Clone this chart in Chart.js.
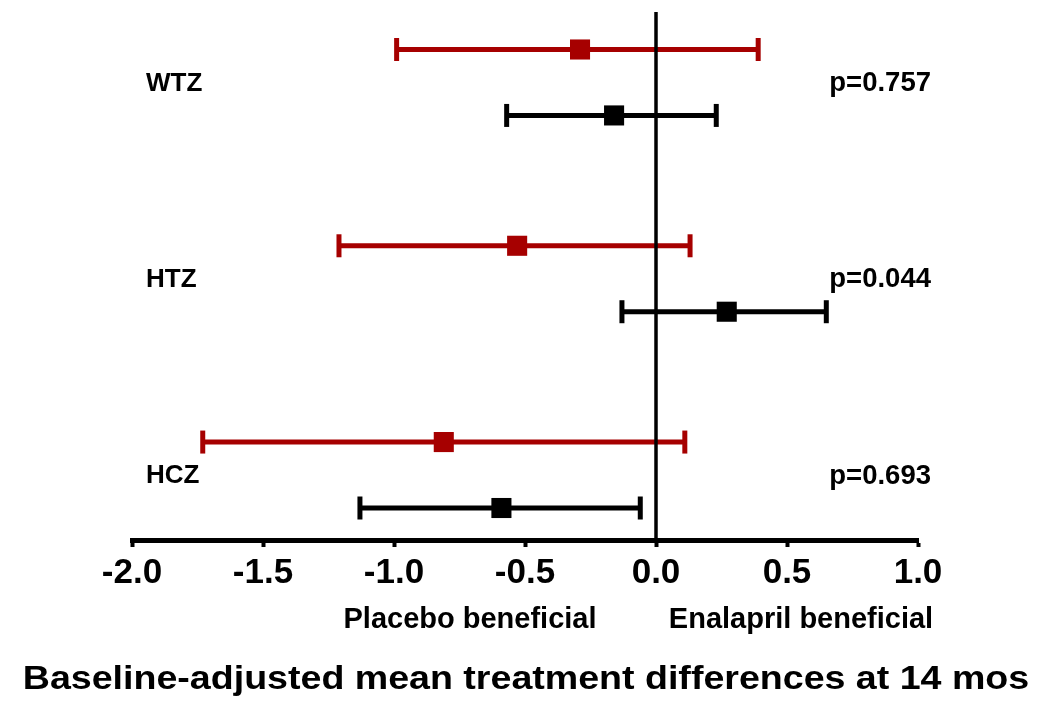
<!DOCTYPE html>
<html>
<head>
<meta charset="utf-8">
<script src="https://cdn.jsdelivr.net/npm/chart.js@4.4.1/dist/chart.umd.min.js"></script>
<style>
  html, body { margin: 0; padding: 0; background: #fff; }
  #chart { display: block; }
</style>
</head>
<body>
<canvas id="chart" width="1050" height="719"></canvas>
<script>
// genotype groups and p-values
const groups = ['WTZ', 'HTZ', 'HCZ'];
const pLabels = ['p=0.757', 'p=0.044', 'p=0.693'];

// red series (upper row in each group)
const redMean = [-0.29, -0.53, -0.81];
const redLow = [-0.99, -1.21, -1.73];
const redHigh = [0.39, 0.13, 0.11];

// black series (lower row in each group)
const blackMean = [-0.16, 0.27, -0.59];
const blackLow = [-0.57, -0.13, -1.13];
const blackHigh = [0.23, 0.65, -0.06];

// x axis ticks
const xTicks = [-2.0, -1.5, -1.0, -0.5, 0.0, 0.5, 1.0];

const RED = '#a60000';
const BLACK = '#000000';
const FONT = '"Liberation Sans", Arial, Helvetica, sans-serif';

// vertical row positions: groups at 3, 2, 1; red above, black below
const groupPos = [3, 2, 1];
const rowOffset = 0.168;
const yMin = 0.669, yMax = 3.359;

const datasets = [];

// zero reference line (drawn on top)
datasets.push({
    type: 'line',
    data: [{ x: 0, y: yMin }, { x: 0, y: yMax }],
    borderColor: BLACK,
    borderWidth: 3.5,
    pointRadius: 0,
    order: 0
});

function addSeries(mean, low, high, color, offset) {
    groups.forEach((g, i) => {
        const y = groupPos[i] + offset;
        // whisker with end caps
        datasets.push({
            type: 'line',
            data: [{ x: low[i], y: y }, { x: high[i], y: y }],
            borderColor: color,
            borderWidth: 5,
            pointStyle: 'line',
            rotation: 90,
            pointRadius: 11.5,
            pointBorderWidth: 5,
            pointBorderColor: color,
            order: 2
        });
        // mean marker
        datasets.push({
            type: 'scatter',
            data: [{ x: mean[i], y: y }],
            pointStyle: 'rect',
            pointRadius: 14.2,
            pointBackgroundColor: color,
            pointBorderWidth: 0,
            order: 1
        });
    });
}

addSeries(redMean, redLow, redHigh, RED, rowOffset);
addSeries(blackMean, blackLow, blackHigh, BLACK, -rowOffset);

// labels, p-values and bottom texts
const textPlugin = {
    id: 'texts',
    afterDraw(chart) {
        const ctx = chart.ctx;
        const yScale = chart.scales.y;
        const area = chart.chartArea;
        ctx.save();
        ctx.fillStyle = '#000';
        ctx.textBaseline = 'middle';
        groups.forEach((g, i) => {
            const y = yScale.getPixelForValue(groupPos[i]);
            ctx.font = 'bold 26px ' + FONT;
            ctx.textAlign = 'left';
            ctx.fillText(g, 146, y + 1);
            ctx.font = 'bold 27.5px ' + FONT;
            ctx.textAlign = 'right';
            ctx.fillText(pLabels[i], 931, y + 1);
        });

        ctx.textBaseline = 'alphabetic';
        ctx.font = 'bold 29px ' + FONT;
        ctx.textAlign = 'center';
        ctx.fillText('Placebo beneficial', 470, area.bottom + 88);
        ctx.fillText('Enalapril beneficial', 801, area.bottom + 88);

        // title is a little wider than plain bold Arial in the original
        ctx.font = 'bold 34px ' + FONT;
        ctx.translate(526, area.bottom + 149);
        ctx.scale(1.105, 1);
        ctx.fillText('Baseline-adjusted mean treatment differences at 14 mos', 0, 0);
        ctx.restore();
    }
};

new Chart(document.getElementById('chart'), {
    type: 'scatter',
    data: { datasets: datasets },
    options: {
        responsive: false,
        animation: false,
        layout: { autoPadding: false, padding: { left: 132, right: 132, top: 12, bottom: 0 } },
        plugins: {
            legend: { display: false },
            tooltip: { enabled: false }
        },
        scales: {
            x: {
                type: 'linear',
                position: 'bottom',
                min: xTicks[0],
                max: xTicks[xTicks.length - 1],
                afterBuildTicks: (scale) => {
                    scale.ticks = xTicks.map(v => ({ value: v }));
                },
                afterFit: (scale) => { scale.height = 179; },
                border: { display: true, color: BLACK, width: 5 },
                grid: {
                    drawOnChartArea: false,
                    drawTicks: true,
                    tickLength: 7,
                    tickWidth: 4,
                    tickColor: BLACK
                },
                ticks: {
                    color: BLACK,
                    padding: 5,
                    maxRotation: 0,
                    font: { family: FONT, size: 35, weight: 'bold' },
                    callback: (v) => Number(v).toFixed(1)
                }
            },
            y: {
                type: 'linear',
                display: false,
                min: yMin,
                max: yMax
            }
        }
    },
    plugins: [textPlugin]
});
</script>
</body>
</html>
